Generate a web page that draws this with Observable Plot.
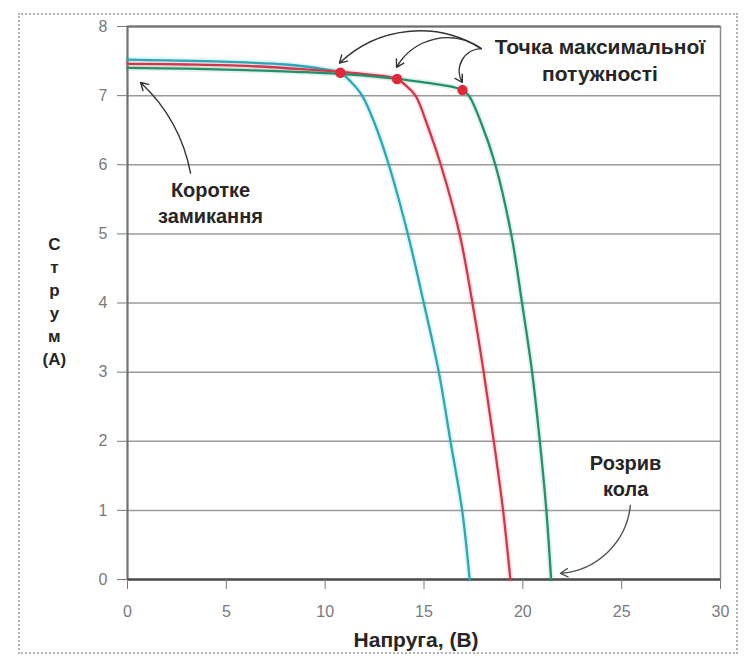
<!DOCTYPE html>
<html><head><meta charset="utf-8">
<script src="https://cdn.jsdelivr.net/npm/d3@7"></script>
<script src="https://cdn.jsdelivr.net/npm/@observablehq/plot@0.6"></script>
<style>
html,body{margin:0;padding:0;background:#fff;}
#wrap{position:relative;width:744px;height:656px;overflow:hidden;}
#wrap svg{position:absolute;left:0;top:0;}
#border{position:absolute;left:18px;top:13px;width:720px;height:641px;border:2px dotted #b5b5b5;box-sizing:border-box;pointer-events:none;}
</style></head><body>
<div id="wrap"><div id="border"></div></div>
<script>
// ---- Data ----
const xTicks = [0, 5, 10, 15, 20, 25, 30];
const yTicks = [0, 1, 2, 3, 4, 5, 6, 7, 8];

const seriesNames  = ["s1", "s2", "s3"];
const seriesColors = ["#28a8b8", "#d3364a", "#23906a"];

const cyanV = [0, 2, 4, 6, 8, 10, 10.77, 11.3, 11.87, 12.5, 13.22, 14.18, 14.99, 15.75, 16.34, 16.93, 17.31];
const cyanI = [7.52, 7.51, 7.50, 7.48, 7.45, 7.38, 7.33, 7.2, 7.0, 6.6, 6.0, 5.0, 4.0, 3.0, 2.0, 1.0, 0];

const redV = [0, 3, 6, 9, 12, 13.64, 14.1, 14.57, 15.2, 15.85, 16.8, 17.45, 18.02, 18.53, 19.0, 19.37];
const redI = [7.46, 7.45, 7.43, 7.38, 7.31, 7.24, 7.14, 7.0, 6.55, 6.0, 5.0, 4.0, 3.0, 2.0, 1.0, 0];

const greenV = [0, 3, 6, 9, 12, 14, 16, 16.95, 17.27, 17.9, 18.61, 19.41, 19.96, 20.47, 20.86, 21.19, 21.43];
const greenI = [7.40, 7.39, 7.37, 7.34, 7.29, 7.23, 7.15, 7.08, 7.0, 6.6, 6.0, 5.0, 4.0, 3.0, 2.0, 1.0, 0];

// maximum power points
const mppV = [10.77, 13.64, 16.95];
const mppI = [7.33, 7.24, 7.08];

// annotation texts
const labelMPP = "Точка максимальної\nпотужності";
const labelShort = "Коротке\nзамикання";
const labelOpen = "Розрив\nкола";
const labelY = "С\nт\nр\nу\nм\n(А)";
const labelX = "Напруга, (В)";

// annotation anchor positions (data units)
const mppLabelPos = [23.9, 7.53];
const shortLabelPos = [4.2, 5.46];
const openLabelPos = [25.2, 1.52];
const yLabelPos = [-3.7, 4.04];
const xLabelPos = [14.6, -0.85];

const mppArrowFrom = [17.9, 7.68];
const mppArrowTo = [[10.72, 7.47], [13.61, 7.41], [16.94, 7.19]];
const mppArrowBend = [-38, -48, -60];
const shortArrow = [[3.19, 5.88], [0.66, 7.19]];
const openArrow = [[25.44, 1.07], [21.9, 0.09]];

// ---- Build tables ----
const seriesV = [cyanV, redV, greenV];
const seriesI = [cyanI, redI, greenI];
const curveData = seriesNames.flatMap((n, s) => seriesV[s].map((v, k) => ({series: n, V: v, I: seriesI[s][k]})));
const mppData = mppV.map((v, k) => ({V: v, I: mppI[k]}));

const font = "'Liberation Sans', Arial, sans-serif";
const textColor = "#262626";

const marks = [
  Plot.ruleY(yTicks, {stroke: "#9a9a9a", strokeWidth: 1.5}),
  Plot.frame({stroke: "#8c8c8c", strokeWidth: 1.5}),
  Plot.ruleY([8], {stroke: "#707070", strokeWidth: 2}),
  Plot.ruleX([0], {stroke: "#707070", strokeWidth: 2}),
  Plot.ruleY([0], {stroke: "#505050", strokeWidth: 2.5}),
  Plot.axisX({ticks: xTicks, tickSize: 10, tickPadding: 16, fontSize: 16, color: "#7a7a7a", label: null}),
  Plot.axisY({ticks: yTicks, tickSize: 10, tickPadding: 10, fontSize: 16, color: "#7a7a7a", label: null}),
  Plot.line(curveData, {x: "V", y: "I", z: "series", stroke: "series", strokeWidth: 6, strokeOpacity: 0.12, curve: "catmull-rom"}),
  Plot.line(curveData, {x: "V", y: "I", z: "series", stroke: "series", strokeWidth: 2.3, curve: "catmull-rom"}),
  Plot.dot(mppData, {x: "V", y: "I", r: 4.5, fill: "#e02a3c", stroke: "#e02a3c"}),
];

mppArrowTo.forEach((to, k) => {
  marks.push(Plot.arrow([0], {x1: () => mppArrowFrom[0], y1: () => mppArrowFrom[1], x2: () => to[0], y2: () => to[1],
    bend: mppArrowBend[k], stroke: "#333", strokeWidth: 1.4, headLength: 9}));
});
marks.push(Plot.arrow([0], {x1: () => shortArrow[0][0], y1: () => shortArrow[0][1], x2: () => shortArrow[1][0], y2: () => shortArrow[1][1],
  bend: -18, stroke: "#333", strokeWidth: 1.4, headLength: 9}));
marks.push(Plot.arrow([0], {x1: () => openArrow[0][0], y1: () => openArrow[0][1], x2: () => openArrow[1][0], y2: () => openArrow[1][1],
  bend: 40, stroke: "#555", strokeWidth: 1.4, headLength: 9}));

const textOpts = {fontSize: 20, fontWeight: "bold", fill: textColor, lineHeight: 1.3, textAnchor: "middle"};
marks.push(Plot.text([labelMPP], {x: () => mppLabelPos[0], y: () => mppLabelPos[1], ...textOpts, fontSize: 21, lineHeight: 1.25}));
marks.push(Plot.text([labelShort], {x: () => shortLabelPos[0], y: () => shortLabelPos[1], ...textOpts}));
marks.push(Plot.text([labelOpen], {x: () => openLabelPos[0], y: () => openLabelPos[1], ...textOpts}));
marks.push(Plot.text([labelY], {x: () => yLabelPos[0], y: () => yLabelPos[1], ...textOpts, fontSize: 17, lineHeight: 1.36}));
marks.push(Plot.text([labelX], {x: () => xLabelPos[0], y: () => xLabelPos[1], ...textOpts, fontSize: 21}));

const chart = Plot.plot({
  width: 744,
  height: 656,
  marginLeft: 127,
  marginRight: 24,
  marginTop: 26,
  marginBottom: 77,
  style: {fontFamily: font, background: "transparent"},
  x: {domain: [0, 30]},
  y: {domain: [0, 8]},
  color: {domain: seriesNames, range: seriesColors},
  marks
});
document.getElementById("wrap").prepend(chart);
</script>
</body></html>
